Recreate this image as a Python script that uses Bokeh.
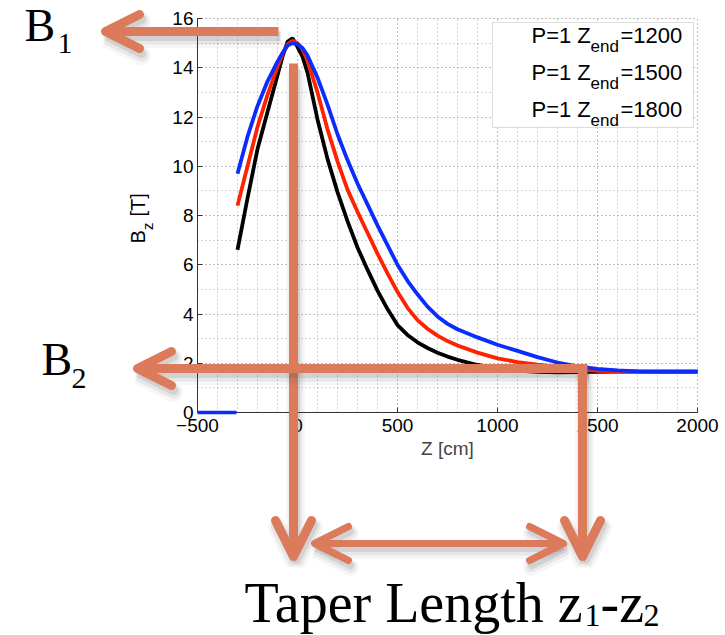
import numpy as np
from bokeh.plotting import figure
from bokeh.models import (Range1d, SingleIntervalTicker, Label, Arrow, OpenHead,
                          BoxAnnotation, ColumnDataSource, Grid)
from bokeh.embed import file_html
from bokeh.resources import INLINE
from math import pi, cos, sin

# ---------------- data ----------------
z_cm = [-300, -250, -200, -150, -100, -75, -50, -25, 0, 25, 50, 100, 150, 200, 250, 300,
        350, 400, 450, 500, 550, 600, 650, 700, 750, 800, 900, 1000, 1100, 1200,
        1300, 1400, 1500, 1600, 1700, 1800, 1900, 2000]
bz_1200 = [6.6, 8.7, 10.7, 12.2, 13.7, 14.45, 15.05, 15.2, 14.85, 14.45, 13.8, 11.9,
           10.3, 8.95, 7.77, 6.7, 5.8, 4.95, 4.2, 3.55, 3.15, 2.85, 2.62, 2.43, 2.27,
           2.14, 1.93, 1.79, 1.70, 1.65, 1.63, 1.64, 1.65, 1.66, 1.66, 1.66, 1.66, 1.66]
bz_1500 = [8.4, 10.0, 11.6, 12.9, 14.05, 14.55, 14.95, 15.1, 15.0, 14.75, 14.3, 13.0,
           11.5, 10.2, 9.05, 8.15, 7.3, 6.45, 5.65, 4.9, 4.25, 3.75, 3.4, 3.12, 2.9,
           2.72, 2.43, 2.2, 2.05, 1.94, 1.85, 1.76, 1.69, 1.66, 1.66, 1.66, 1.66, 1.66]
bz_1800 = [9.7, 11.2, 12.45, 13.45, 14.25, 14.6, 14.9, 15.0, 14.95, 14.8, 14.5, 13.6,
           12.5, 11.3, 10.25, 9.3, 8.45, 7.6, 6.8, 6.0, 5.35, 4.8, 4.3, 3.9, 3.6, 3.38,
           3.05, 2.75, 2.5, 2.25, 2.03, 1.87, 1.77, 1.71, 1.67, 1.66, 1.66, 1.66]
z_off = [-500, -305]          # field is zero before the start of the map
bz_off = [0.0, 0.0]
series_names = ["1200", "1500", "1800"]
series_colors = ["#000000", "#ff2200", "#0a2cff"]

x_lim = (-500, 2000)
y_lim = (0, 16)
x_ticks_step = 500
y_ticks_step = 2

W, H = 725, 635

# ---------------- page-pixel helpers for annotations ----------------
def X(px):
    return -500 + (px - 197) * 2500.0 / 500.0

def Y(py):
    return (412 - py) * 16.0 / 394.0

SERIF = "Liberation Serif"
SANS = "Liberation Sans"
ARROW = "#dc7a5c"
BASE_FIX = 0.35   # label baseline correction (fraction of font size)

p = figure(width=W, height=H, x_range=Range1d(X(0), X(W)), y_range=Range1d(Y(H), Y(0)),
           output_backend="svg", toolbar_location=None,
           min_border_left=0, min_border_right=0, min_border_top=0, min_border_bottom=0)
p.outline_line_color = None
p.background_fill_color = "white"
p.border_fill_color = "white"

xt = SingleIntervalTicker(interval=x_ticks_step, num_minor_ticks=5)
yt = SingleIntervalTicker(interval=y_ticks_step, num_minor_ticks=2)
p.xaxis.ticker = xt
p.yaxis.ticker = yt
p.xaxis.fixed_location = y_lim[0]
p.yaxis.fixed_location = x_lim[0]
p.xaxis.bounds = x_lim
p.yaxis.bounds = y_lim

has_cross = "cross_bounds" in Grid.properties()
p.xgrid.ticker = xt
p.ygrid.ticker = yt
p.xgrid.bounds = x_lim
p.ygrid.bounds = y_lim
if has_cross:
    p.xgrid.cross_bounds = y_lim
    p.ygrid.cross_bounds = x_lim
    for g in (p.xgrid, p.ygrid):
        g.grid_line_color = "#a8a8a8"
        g.grid_line_dash = "1 3"
        g.minor_grid_line_color = "#a8a8a8"
        g.minor_grid_line_dash = "1 3"
else:
    p.xgrid.visible = False
    p.ygrid.visible = False
    gx = np.arange(x_lim[0], x_lim[1] + 1, x_ticks_step / 5)
    gy = np.arange(y_lim[0], y_lim[1] + 0.01, y_ticks_step / 2)
    p.segment(gx, y_lim[0], gx, y_lim[1], line_color="#a8a8a8", line_dash="1 3")
    p.segment(x_lim[0], gy, x_lim[1], gy, line_color="#a8a8a8", line_dash="1 3")

for ax in (p.xaxis, p.yaxis):
    ax.axis_line_color = "#333333"
    ax.major_tick_in = 5
    ax.major_tick_out = 0
    ax.minor_tick_in = 0
    ax.minor_tick_out = 0
    ax.major_tick_line_color = "#333333"
    ax.major_label_text_font = SANS
    ax.major_label_text_font_size = "19px"
    ax.major_label_text_color = "black"
p.xaxis.major_label_standoff = 6
p.yaxis.major_label_standoff = 4
p.xaxis.axis_label = "Z [cm]"
p.xaxis.axis_label_text_font = SANS
p.xaxis.axis_label_text_font_size = "19px"
p.xaxis.axis_label_text_font_style = "normal"
p.xaxis.axis_label_standoff = 3

# ---------------- curves ----------------
for vals, col in zip([bz_1200, bz_1500, bz_1800], series_colors):
    p.line(z_cm, vals, line_color=col, line_width=3.8)
p.line(z_off, bz_off, line_color=series_colors[2], line_width=3.5, level="overlay")

# ---------------- text helper (page pixels, alphabetic baseline) ----------------
def text(px, py, t, size, font, angle=0.0, color="black"):
    d = BASE_FIX * size
    px2 = px - d * sin(angle)
    py2 = py - d * cos(angle)
    p.add_layout(Label(x=X(px2), y=Y(py2), text=t, angle=angle, text_font=font,
                       text_font_size=f"{size}px", text_baseline="alphabetic",
                       text_color=color))

# ---------------- legend (manual, for subscripts) ----------------
p.add_layout(BoxAnnotation(left=X(492), right=X(693), top=Y(22), bottom=Y(127),
                           fill_color="white", fill_alpha=1.0,
                           line_color="#8a8a8a", line_width=1))
leg_src = ColumnDataSource(dict(x=[X(513)] * 3, y=[Y(44), Y(81), Y(118)], c=series_colors))
p.scatter("x", "y", source=leg_src, size=4, color="c")
for i, name in enumerate(series_names):
    base = 43 + 37 * i
    text(531, base, "P=1 Z", 22, SANS)
    text(590, base + 9, "end", 17, SANS)
    text(620, base, "=" + name, 22, SANS)

# ---------------- y axis label with subscript ----------------
text(144, 243, "B", 20, SANS, angle=pi / 2)
text(152, 229.5, "z", 15, SANS, angle=pi / 2)
text(144, 216, "[T]", 20, SANS, angle=pi / 2)

# ---------------- arrows with soft shadows ----------------
def arrow(x0, y0, x1, y1, w, size, both=False):
    for dx, dy, ww, a in [(2, 7, w + 10, 0.05), (2, 6, w + 5, 0.09), (2, 5, w, 0.14)]:
        p.add_layout(Arrow(x_start=X(x0 + dx), y_start=Y(y0 + dy),
                           x_end=X(x1 + dx), y_end=Y(y1 + dy),
                           line_color="#555555", line_alpha=a, line_width=ww,
                           end=OpenHead(size=size, line_color="#555555", line_alpha=a,
                                        line_width=ww, line_cap="round"),
                           start=(OpenHead(size=size, line_color="#555555", line_alpha=a,
                                           line_width=ww, line_cap="round") if both else None)))
    p.add_layout(Arrow(x_start=X(x0), y_start=Y(y0), x_end=X(x1), y_end=Y(y1),
                       line_color=ARROW, line_width=w,
                       end=OpenHead(size=size, line_color=ARROW, line_width=w,
                                    line_cap="round", line_join="round"),
                       start=(OpenHead(size=size, line_color=ARROW, line_width=w,
                                       line_cap="round", line_join="round") if both else None)))

arrow(278, 31, 105, 31, 9, 34)          # B1
arrow(293, 63, 293, 556, 9, 36)         # left vertical
arrow(587, 368, 137, 368, 9, 34)        # B2
arrow(582, 364, 582, 556, 9, 36)        # right vertical
arrow(314, 543, 563, 543, 7, 34, both=True)  # taper length

# ---------------- serif annotation texts ----------------
text(24, 41, "B", 46, SERIF)
text(57, 53, "1", 30, SERIF)
text(41, 375, "B", 46, SERIF)
text(71, 388, "2", 30, SERIF)
text(244, 622, "Taper Length z", 56, SERIF)
text(584, 626, "1", 32, SERIF)
text(600, 622, "-z", 56, SERIF)
text(643, 626, "2", 32, SERIF)

open("out.html", "w").write(file_html(p, INLINE))
